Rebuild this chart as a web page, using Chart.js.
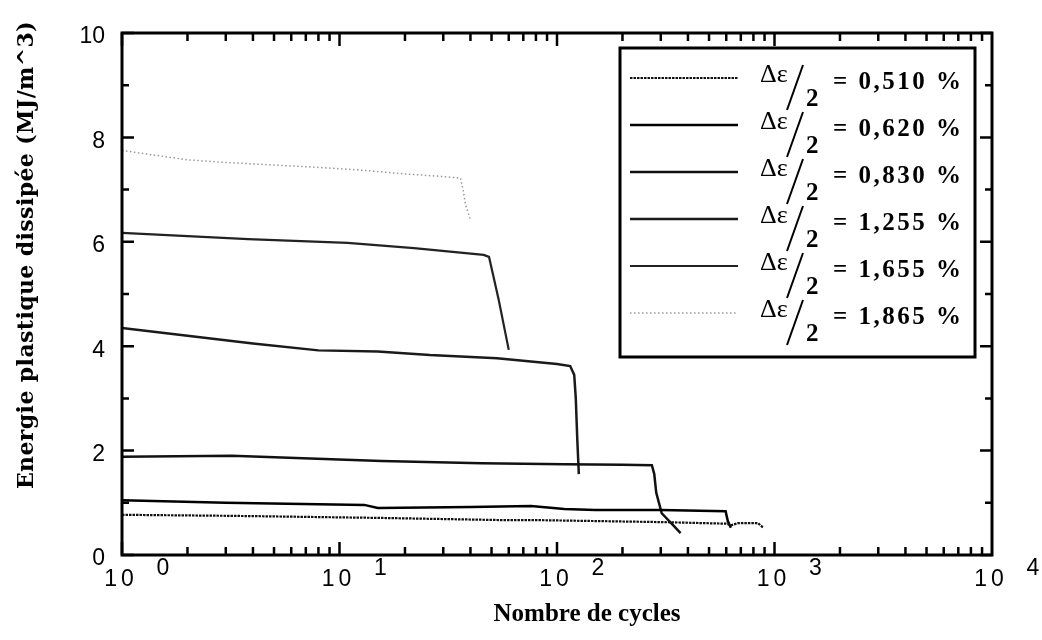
<!DOCTYPE html>
<html>
<head>
<meta charset="utf-8">
<script src="https://cdn.jsdelivr.net/npm/chart.js@4"></script>
<style>
  html, body { margin: 0; padding: 0; background: #fff; }
  #wrap { width: 1042px; height: 640px; position: relative; }
</style>
</head>
<body>
<div id="wrap"><canvas id="chart"></canvas></div>
<script>
// values: cycles (log axis) and dissipated energy (MJ/m^3)
const cycles_0510 = [1, 3.2, 15.6, 54, 76, 303, 600, 630, 680, 840, 890];
const energy_0510 = [0.77, 0.75, 0.71, 0.67, 0.67, 0.63, 0.60, 0.57, 0.61, 0.61, 0.52];

const cycles_0620 = [1, 3, 13, 15, 40, 76, 108, 150, 300, 596, 610, 630];
const energy_0620 = [1.05, 1.00, 0.96, 0.90, 0.92, 0.94, 0.88, 0.86, 0.86, 0.84, 0.65, 0.52];

const cycles_0830 = [1, 3.2, 15.6, 45, 108, 200, 273, 280, 286, 303, 340, 370];
const energy_0830 = [1.88, 1.90, 1.80, 1.76, 1.74, 1.73, 1.72, 1.55, 1.19, 0.80, 0.58, 0.42];

const cycles_1255 = [1, 2, 4, 8, 15, 26, 53, 100, 115, 120, 122, 124, 126];
const energy_1255 = [4.35, 4.20, 4.05, 3.92, 3.90, 3.83, 3.77, 3.66, 3.62, 3.45, 3.00, 2.20, 1.55];

const cycles_1655 = [1, 3.8, 10.9, 22, 46, 48.7, 54, 60];
const energy_1655 = [6.17, 6.05, 5.98, 5.88, 5.75, 5.71, 4.88, 3.93];

const cycles_1865 = [1, 2, 3, 5, 7.7, 12, 20, 30, 36, 37, 38, 40];
const energy_1865 = [7.75, 7.57, 7.52, 7.47, 7.43, 7.38, 7.30, 7.25, 7.22, 7.00, 6.70, 6.42];

const seriesLabels = ['0,510 %', '0,620 %', '0,830 %', '1,255 %', '1,655 %', '1,865 %'];
const yTicks = [0, 2, 4, 6, 8, 10];
const xDecades = [0, 1, 2, 3, 4];

const pts = (xs, ys) => xs.map((x, i) => ({ x, y: ys[i] }));

const styles = [
    { color: '#111', width: 2.2, dash: [2.5, 1] },
    { color: '#000', width: 2.5, dash: [] },
    { color: '#111', width: 2.5, dash: [] },
    { color: '#1a1a1a', width: 2.5, dash: [] },
    { color: '#222', width: 2.2, dash: [] },
    { color: '#999', width: 1.5, dash: [1.5, 2.5] },
];
const allData = [
    pts(cycles_0510, energy_0510), pts(cycles_0620, energy_0620), pts(cycles_0830, energy_0830),
    pts(cycles_1255, energy_1255), pts(cycles_1655, energy_1655), pts(cycles_1865, energy_1865),
];

const datasets = allData.map((d, i) => ({
    label: seriesLabels[i], data: d,
    borderColor: styles[i].color, borderWidth: styles[i].width, borderDash: styles[i].dash,
    pointRadius: 0, tension: 0, fill: false,
}));

// frame, inward ticks, x labels with exponents, titles and the fraction legend
const decor = {
    id: 'decor',
    afterDraw(chart) {
        const { ctx, chartArea: a, scales: { x: xs, y: ys } } = chart;
        ctx.save();
        ctx.strokeStyle = '#000';
        ctx.lineWidth = 2.5;
        ctx.beginPath();
        for (let v = 0; v <= 10; v++) {
            const py = ys.getPixelForValue(v), len = v % 2 === 0 ? 12 : 7;
            ctx.moveTo(a.left, py); ctx.lineTo(a.left + len, py);
            ctx.moveTo(a.right, py); ctx.lineTo(a.right - len, py);
        }
        for (let d = 0; d < 4; d++) {
            for (let m = 1; m <= 9; m++) {
                const px = xs.getPixelForValue(m * Math.pow(10, d)), len = m === 1 ? 13 : 8;
                ctx.moveTo(px, a.bottom); ctx.lineTo(px, a.bottom - len);
                ctx.moveTo(px, a.top); ctx.lineTo(px, a.top + len);
            }
        }
        ctx.stroke();
        ctx.lineWidth = 3;
        ctx.strokeRect(a.left, a.top, a.right - a.left, a.bottom - a.top);

        // x tick labels 10^n
        ctx.fillStyle = '#000';
        ctx.textBaseline = 'middle';
        ctx.textAlign = 'center';
        xDecades.forEach(d => {
            const px = xs.getPixelForValue(Math.pow(10, d));
            ctx.font = "23px 'Liberation Sans'";
            ctx.letterSpacing = '4px';
            ctx.fillText('10', px - 1, a.bottom + 25);
            ctx.letterSpacing = '0px';
            ctx.fillText(String(d), px + 41, a.bottom + 14);
        });

        // axis titles
        ctx.font = "bold 25px 'Liberation Serif'";
        ctx.fillText('Nombre de cycles', 587, 615);
        ctx.save();
        ctx.translate(27, 255);
        ctx.rotate(-Math.PI / 2);
        ctx.font = "bold 22px 'DejaVu Serif'";
        ctx.letterSpacing = '0.4px';
        ctx.fillText('Energie plastique dissipée (MJ/m^3)', 0, 0);
        ctx.restore();

        // legend box
        const bx = 620, by = 48, bw = 355, bh = 309;
        ctx.fillStyle = '#fff';
        ctx.fillRect(bx, by, bw, bh);
        ctx.lineWidth = 3;
        ctx.strokeStyle = '#000';
        ctx.strokeRect(bx, by, bw, bh);
        chart.data.datasets.forEach((ds, i) => {
            const ry = 83 + i * 47;
            ctx.save();
            ctx.strokeStyle = ds.borderColor;
            ctx.lineWidth = ds.borderWidth;
            ctx.setLineDash(ds.borderDash);
            ctx.beginPath();
            ctx.moveTo(630, ry - 5); ctx.lineTo(738, ry - 5);
            ctx.stroke();
            ctx.restore();
            ctx.fillStyle = '#000';
            ctx.textAlign = 'left';
            ctx.font = "26px 'Liberation Serif'";
            ctx.fillText('Δε', 760, ry - 8);
            ctx.lineWidth = 2;
            ctx.beginPath();
            ctx.moveTo(787, ry + 27); ctx.lineTo(803, ry - 18);
            ctx.stroke();
            ctx.font = "bold 25px 'Liberation Serif'";
            ctx.fillText('2', 806, ry + 17);
            ctx.letterSpacing = '2.5px';
            ctx.fillText('= ' + ds.label, 833, ry);
            ctx.letterSpacing = '0px';
        });
        ctx.restore();
    }
};

new Chart(document.getElementById('chart'), {
    type: 'line',
    data: { datasets },
    options: {
        responsive: true, maintainAspectRatio: false, animation: false,
        layout: { padding: { top: 33, right: 50, left: 0, bottom: 0 } },
        plugins: { legend: { display: false }, tooltip: { enabled: false } },
        scales: {
            x: {
                type: 'logarithmic', min: 1, max: 10000,
                afterFit: s => { s.height = 85; },
                ticks: { display: false },
                grid: { display: false, drawTicks: false },
                border: { display: false },
            },
            y: {
                min: 0, max: 10,
                afterFit: s => { s.width = 122; },
                afterBuildTicks: s => { s.ticks = yTicks.map(v => ({ value: v })); },
                ticks: { color: '#000', padding: 17, labelOffset: 4, font: { family: 'Liberation Sans', size: 23 } },
                grid: { display: false, drawTicks: false },
                border: { display: false },
            }
        }
    },
    plugins: [decor]
});
</script>
</body>
</html>
